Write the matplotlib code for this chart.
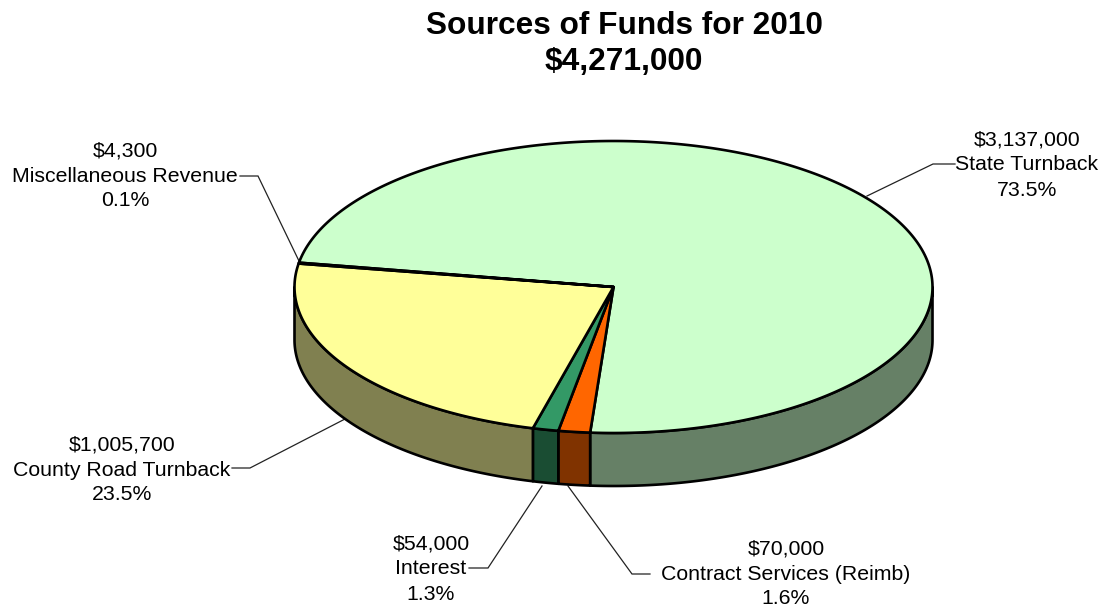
import numpy as np
import matplotlib
matplotlib.use('Agg')
import matplotlib.pyplot as plt
from matplotlib.patches import Polygon

plt.rcParams['font.family'] = ['Liberation Sans', 'DejaVu Sans']

sources = ['State Turnback', 'Contract Services (Reimb)', 'Interest',
           'County Road Turnback', 'Miscellaneous Revenue']
amounts = [3137000, 70000, 54000, 1005700, 4300]
percents = [73.5, 1.6, 1.3, 23.5, 0.1]
top_colors = ['#CCFFCC', '#FF6600', '#339966', '#FFFF99', '#FFFFCC']
side_colors = ['#668066', '#803300', '#1A4D33', '#808050', '#808066']

# pie geometry in pixels
cx, cy = 613.5, 287
rx, ry = 319, 146
depth = 53
start = 279.6

label_pos = [(1027, 165), (786, 574), (431, 569), (122, 470), (125, 176)]
leaders = [
    [(867, 196), (933, 164), (955, 164)],
    [(568, 486), (632, 574), (650, 574)],
    [(542, 486), (488, 568), (469, 568)],
    [(345, 419), (250, 468), (232, 468)],
    [(299, 261), (258, 176), (240, 176)],
]


def rim(a):
    # a is degrees clockwise from 12 o'clock
    a = np.radians(a)
    return cx + rx * np.sin(a), cy - ry * np.cos(a)


fig = plt.figure(figsize=(11.02, 6.08), dpi=100)
ax = fig.add_axes([0, 0, 1, 1])
ax.set_xlim(0, 1102)
ax.set_ylim(608, 0)
ax.axis('off')

sweeps = np.array(percents) / 100 * 360
begins = start + np.concatenate([[0], np.cumsum(sweeps)[:-1]])

# outer walls, only the front half of the rim shows
for b, s, col in zip(begins, sweeps, side_colors):
    for turn in (0, 360):
        lo = max(b - turn, 90)
        hi = min(b + s - turn, 270)
        if hi <= lo:
            continue
        t = np.linspace(lo, hi, 200)
        x, y = rim(t)
        pts = np.r_[np.c_[x, y], np.c_[x[::-1], y[::-1] + depth]]
        ax.add_patch(Polygon(pts, closed=True, fc=col, ec='black', lw=1.9,
                             joinstyle='round', zorder=2))

# top faces
for b, s, col in zip(begins, sweeps, top_colors):
    t = np.linspace(b, b + s, max(int(s * 4), 8))
    x, y = rim(t)
    pts = np.r_[[[cx, cy]], np.c_[x, y]]
    ax.add_patch(Polygon(pts, closed=True, fc=col, ec='black', lw=1.9,
                         joinstyle='round', zorder=3))

for line in leaders:
    xs, ys = zip(*line)
    ax.plot(xs, ys, color='#222222', lw=0.9, zorder=1, solid_joinstyle='miter')

for name, amt, pct, (lx, ly) in zip(sources, amounts, percents, label_pos):
    txt = f'${amt:,}\n{name}\n{pct:.1f}%'
    ax.text(lx, ly, txt, ha='center', va='center', fontsize=15.3,
            linespacing=1.4, color='black')

ax.text(624, 26, 'Sources of Funds for 2010', ha='center', va='center',
        fontsize=22.8, fontweight='bold')
ax.text(624, 62, '$4,271,000', ha='center', va='center',
        fontsize=22.8, fontweight='bold')

fig.savefig('out.png', dpi=100, facecolor='white')
